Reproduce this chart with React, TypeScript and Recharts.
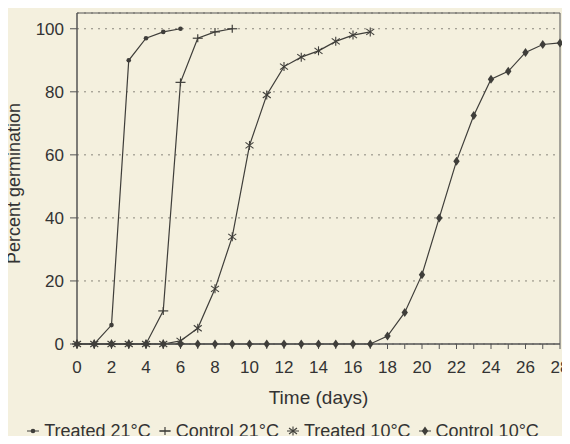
import React from 'react';
import { LineChart, Line, XAxis, YAxis, CartesianGrid, Legend, ReferenceArea } from 'recharts';

// Days 0..28 (x axis), values indexed by day
const xTicks = [0, 1, 2, 3, 4, 5, 6, 7, 8, 9, 10, 11, 12, 13, 14, 15, 16, 17, 18, 19, 20, 21, 22, 23, 24, 25, 26, 27, 28];
const yTicks = [0, 20, 40, 60, 80, 100];

const treated21 = [0, 0, 6, 90, 97, 99, 100];
const control21 = [0, 0, 0, 0, 0, 10.5, 83, 97, 99, 100];
const treated10 = [0, 0, 0, 0, 0, 0, 1, 5, 17.5, 34, 63, 79, 88, 91, 93, 96, 98, 99];
const control10 = [0, 0, 0, 0, 0, 0, 0, 0, 0, 0, 0, 0, 0, 0, 0, 0, 0, 0, 2.5, 10, 22, 40, 58, 72.5, 84, 86.5, 92.5, 95, 95.5];

const seriesNames = ['Treated 21°C', 'Control 21°C', 'Treated 10°C', 'Control 10°C'];

const toPoints = (vals: number[]) => vals.map((v, i) => ({ day: xTicks[i], value: v }));

const INK = '#3f3e3a';
const BG = '#f4f0de';
const FONT = '"Liberation Sans", Arial, sans-serif';

const DotMarker = (cx: number, cy: number, key?: string) => (
  <circle key={key} cx={cx} cy={cy} r={2.3} fill={INK} stroke="none" />
);
const PlusMarker = (cx: number, cy: number, key?: string) => (
  <g key={key}>
    <line x1={cx - 5} x2={cx + 5} y1={cy} y2={cy} stroke={INK} strokeWidth={1.2} />
    <line x1={cx} x2={cx} y1={cy - 4} y2={cy + 4} stroke={INK} strokeWidth={1.2} />
  </g>
);
const StarMarker = (cx: number, cy: number, key?: string) => (
  <g key={key}>
    <line x1={cx - 4} x2={cx + 4} y1={cy - 3} y2={cy + 3} stroke={INK} strokeWidth={1.1} />
    <line x1={cx - 4} x2={cx + 4} y1={cy + 3} y2={cy - 3} stroke={INK} strokeWidth={1.1} />
    <line x1={cx} x2={cx} y1={cy - 4.5} y2={cy + 4.5} stroke={INK} strokeWidth={1.1} />
  </g>
);
const DiamondMarker = (cx: number, cy: number, key?: string) => (
  <path key={key} d={`M${cx},${cy - 4.5}L${cx + 3.2},${cy}L${cx},${cy + 4.5}L${cx - 3.2},${cy}Z`} fill={INK} stroke="none" />
);

const markers = [DotMarker, PlusMarker, StarMarker, DiamondMarker];

const makeDot = (idx: number) => (props: any) => {
  const { cx, cy, index } = props;
  if (cx == null || cy == null) return <g key={`e-${index}`} />;
  return markers[idx](cx, cy, `m-${idx}-${index}`);
};

const LegendContent = () => (
  <div style={{ display: 'flex', justifyContent: 'center', alignItems: 'center', fontFamily: FONT, fontSize: 18, color: '#333', height: 20, lineHeight: '20px', paddingRight: 5 }}>
    {seriesNames.map((name, i) => (
      <div key={name} style={{ display: 'flex', alignItems: 'center', marginRight: i < 3 ? 7 : 0 }}>
        <svg width={14} height={14} style={{ marginRight: 4 }}>
          <line x1={1} x2={13} y1={7} y2={7} stroke={INK} strokeWidth={1} />
          {markers[i](7, 7)}
        </svg>
        <span>{name}</span>
      </div>
    ))}
  </div>
);

const YLabel = (props: any) => {
  const vb = props.viewBox || {};
  const x = (vb.x ?? 10) + 10;
  const y = (vb.y ?? 13) + (vb.height ?? 331) / 2 + 5;
  return (
    <text x={x} y={y} transform={`rotate(-90, ${x}, ${y})`} textAnchor="middle" fill="#333" fontSize={18} fontFamily={FONT}>
      Percent germination
    </text>
  );
};

const lines = [treated21, control21, treated10, control10];

export default function App() {
  return (
    <div style={{ margin: -8, width: 570, height: 444, background: BG }}>
      <LineChart width={570} height={444} margin={{ top: 13, right: 10, left: 10, bottom: 20 }}>
        <CartesianGrid vertical={false} stroke="#8a877c" strokeDasharray="2 5" />
        <XAxis
          dataKey="day"
          type="number"
          domain={[0, 28]}
          ticks={xTicks}
          interval={0}
          tickFormatter={(v: number) => (v % 2 === 0 ? String(v) : '')}
          tickSize={5}
          tickMargin={12}
          height={60}
          stroke="#555"
          tick={{ fill: '#333', fontSize: 17, fontFamily: FONT }}
          allowDuplicatedCategory={false}
          label={{ value: 'Time (days)', position: 'insideBottom', offset: 0, fill: '#333', fontSize: 19, fontFamily: FONT }}
        />
        <YAxis
          type="number"
          domain={[0, 105]}
          ticks={yTicks}
          interval={0}
          tickSize={7}
          tickMargin={6}
          width={67}
          stroke="#555"
          tick={{ fill: '#333', fontSize: 17, fontFamily: FONT }}
          label={<YLabel />}
        />
        <ReferenceArea x1={0} x2={28} y1={0} y2={105} fill="none" stroke="#555" strokeWidth={1} ifOverflow="visible" />
        {lines.map((vals, i) => (
          <Line
            key={seriesNames[i]}
            data={toPoints(vals)}
            dataKey="value"
            name={seriesNames[i]}
            type="linear"
            stroke={INK}
            strokeWidth={1.2}
            dot={makeDot(i)}
            activeDot={false}
            isAnimationActive={false}
          />
        ))}
        <Legend verticalAlign="bottom" content={<LegendContent />} wrapperStyle={{ top: 421, bottom: 'auto', left: 0, width: 570 }} />
      </LineChart>
    </div>
  );
}
